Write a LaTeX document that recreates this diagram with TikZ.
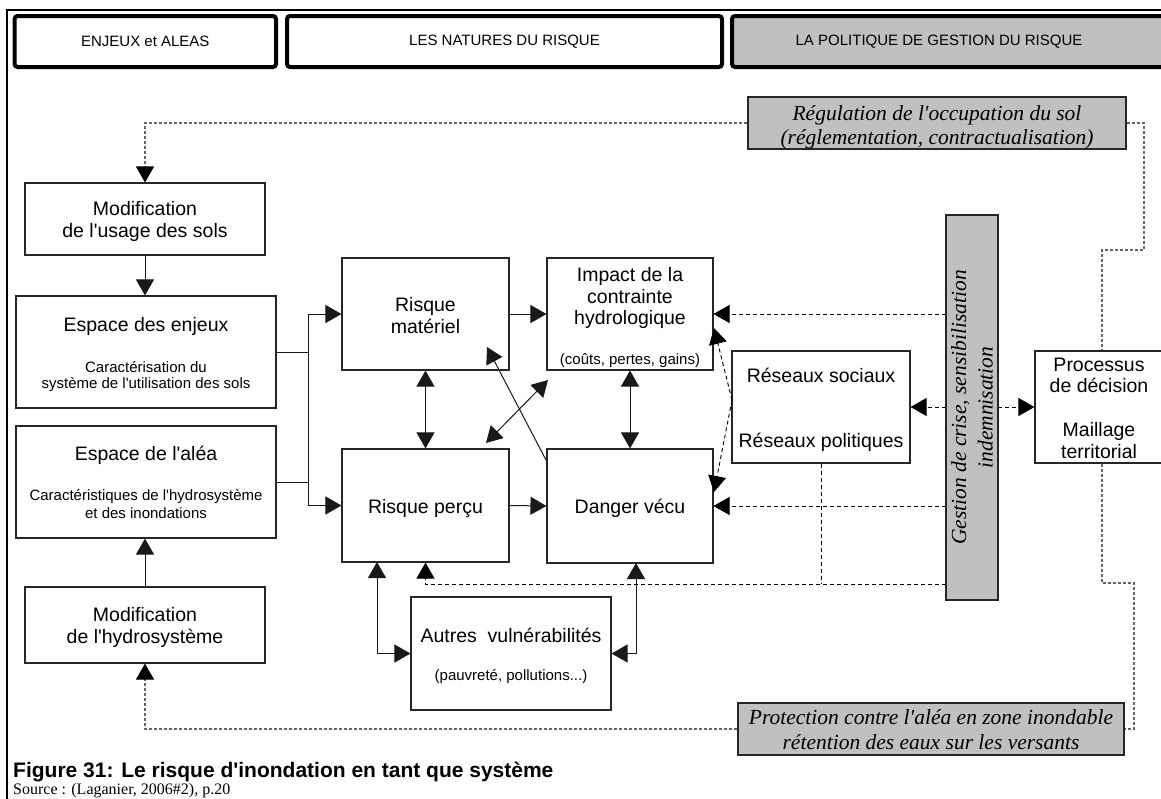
\documentclass[tikz,border=0pt]{standalone}
\usepackage{fontspec}
\setmainfont{Liberation Sans}[Ligatures=TeXOff]
\newfontfamily\tms{Liberation Serif}[Ligatures=TeXOff]
\usetikzlibrary{arrows.meta,calc}
\definecolor{boxgray}{RGB}{192,192,192}
\newcommand\FMain{\fontsize{19.5pt}{22pt}\selectfont}
\newcommand\FSmall{\fontsize{15pt}{17pt}\selectfont}
\newcommand\FIt{\tms\itshape\fontsize{21.5pt}{26.5pt}\selectfont}
\newcommand\FCap{\bfseries\fontsize{21pt}{24pt}\selectfont}
\newcommand\FSrc{\tms\fontsize{16pt}{18pt}\selectfont}
\begin{document}
\begin{tikzpicture}[x=1pt,y=-1pt,
  bx/.style={draw=black!85, line width=1.1pt, fill=white, inner sep=0pt},
  gbx/.style={draw=black!85, line width=1.1pt, fill=boxgray, inner sep=0pt},
  hdr/.style={draw=black, line width=4pt, rounded corners=3pt, inner sep=0pt, font=\FSmall},
  tx/.style={anchor=base, inner sep=0pt},
  ln/.style={draw=black!90, line width=1pt},
  arr/.style={ln, -{Triangle[length=16pt,width=18pt]}},
  darr2/.style={ln, {Triangle[length=16pt,width=18pt]}-{Triangle[length=16pt,width=18pt]}},
  dl/.style={draw=black, line width=0.9pt, dash pattern=on 4pt off 3pt},
  darr/.style={dl, -{Triangle[length=16pt,width=18pt]}},
  gd/.style={draw=black!60, line width=1.1pt, dash pattern=on 3pt off 2pt},
  gda/.style={gd, -{Triangle[length=16pt,width=18pt,color=black]}}
]
\useasboundingbox (0,0) rectangle (1161,798);
\clip (0,0) rectangle (1161,798);
\fill[white] (0,0) rectangle (1161,798);
% frame
\draw[line width=1.2pt] (7,800) -- (7,10) -- (1170,10);
% headers
\node[hdr, minimum width=261.4pt, minimum height=51pt] (h1) at (145.3,41.5) {ENJEUX et ALEAS};
\node[hdr, minimum width=435pt, minimum height=51pt] (h2) at (504.5,41.5) {LES NATURES DU RISQUE};
\node[hdr, fill=boxgray, minimum width=448pt, minimum height=51pt] (h3) at (956,41.5) {};
\node[font=\FSmall, inner sep=0pt] (h3t) at (939,41.5) {LA POLITIQUE DE GESTION DU RISQUE};
% boxes
\node[bx, minimum width=240pt, minimum height=72pt] (modU) at (145,219) {};
\node[bx, minimum width=260pt, minimum height=112pt] (enjeux) at (146,352) {};
\node[bx, minimum width=260pt, minimum height=112pt] (alea) at (146,482) {};
\node[bx, minimum width=240pt, minimum height=76pt] (modH) at (145,625) {};
\node[bx, minimum width=167pt, minimum height=112pt] (rmat) at (425.5,314) {};
\node[bx, minimum width=166pt, minimum height=112pt] (impact) at (630,314) {};
\node[bx, minimum width=167pt, minimum height=113pt] (rper) at (425.5,505.5) {};
\node[bx, minimum width=166pt, minimum height=114pt] (danger) at (630,506) {};
\node[bx, minimum width=178pt, minimum height=112pt] (reseaux) at (821,407) {};
\node[bx, minimum width=129pt, minimum height=112pt] (proc) at (1099.5,407) {};
\node[bx, minimum width=200pt, minimum height=113pt] (autres) at (511,653.5) {};
\node[gbx, minimum width=378pt, minimum height=52pt] (reg) at (937,123) {};
\node[gbx, minimum width=386pt, minimum height=52pt] (prot) at (931,729) {};
\node[gbx, rotate=90, minimum width=385pt, minimum height=52pt, align=center, font=\FIt] (bar) at (972,407.5) {Gestion de crise, sensibilisation\\indemnisation};
% texts
\node[tx, font=\FMain] (t1) at (145,215) {Modification};
\node[tx, font=\FMain] (t2) at (145,237) {de l'usage des sols};
\node[tx, font=\FMain] (t3) at (146,331) {Espace des enjeux};
\node[tx, font=\FSmall] (t4) at (146,372) {Caractérisation du};
\node[tx, font=\FSmall] (t5) at (146,388) {système de l'utilisation des sols};
\node[tx, font=\FMain] (t6) at (146,460) {Espace de l'aléa};
\node[tx, font=\FSmall] (t7) at (146,500) {Caractéristiques de l'hydrosystème};
\node[tx, font=\FSmall] (t8) at (146,518) {et des inondations};
\node[tx, font=\FMain] (t9) at (145,621) {Modification};
\node[tx, font=\FMain] (t10) at (145,643) {de l'hydrosystème};
\node[tx, font=\FMain] (t11) at (425.5,311) {Risque};
\node[tx, font=\FMain] (t12) at (425.5,333) {matériel};
\node[tx, font=\FMain] (t13) at (630,281) {Impact de la};
\node[tx, font=\FMain] (t14) at (630,303) {contrainte};
\node[tx, font=\FMain] (t15) at (630,324) {hydrologique};
\node[tx, font=\FSmall] (t16) at (630,364) {(coûts, pertes, gains)};
\node[tx, font=\FMain] (t17) at (425.5,513) {Risque perçu};
\node[tx, font=\FMain] (t18) at (630,513) {Danger vécu};
\node[tx, font=\FMain] (t19) at (821,382) {Réseaux sociaux};
\node[tx, font=\FMain] (t20) at (821,447) {Réseaux politiques};
\node[tx, font=\FMain] (t21) at (1099,371) {Processus};
\node[tx, font=\FMain] (t22) at (1099,392) {de décision};
\node[tx, font=\FMain] (t23) at (1099,436) {Maillage};
\node[tx, font=\FMain] (t24) at (1099,458) {territorial};
\node[tx, font=\FMain] (t25) at (511,642) {Autres~ vulnérabilités};
\node[tx, font=\FSmall] (t26) at (511,680) {(pauvreté, pollutions...)};
\node[tx, font=\FIt] (t27) at (937,120) {Régulation de l'occupation du sol};
\node[tx, font=\FIt] (t28) at (937,144) {(réglementation, contractualisation)};
\node[tx, font=\FIt] (t29) at (931,724) {Protection contre l'aléa en zone inondable};
\node[tx, font=\FIt] (t30) at (931,749) {rétention des eaux sur les versants};
\node[anchor=base west, inner sep=0pt, font=\FCap] (cap) at (13,777) {Figure 31: Le risque d'inondation en tant que système};
\node[anchor=base west, inner sep=0pt, font=\FSrc] (src) at (13,794) {Source : (Laganier, 2006\#2), p.20};
% coordinates
\coordinate (jx) at (308,0);
\coordinate (barL) at (946,0);
\coordinate (barR) at (998,0);
\coordinate (d1) at (548,380);
\coordinate (d2) at (486,443);
\coordinate (s1) at (546,460);
\coordinate (s2) at (487,347);
\coordinate (rsw) at (732,400);
\coordinate (iTip) at (714,328);
\coordinate (dTip) at (714,492);
\coordinate (b584) at (946,584);
\coordinate (pl) at (377,562);
\coordinate (dl1) at (636,563);
\coordinate (r1) at (1144,250);
\coordinate (px) at (1102,0);
\coordinate (c2) at (1134,583);
% solid connectors
\draw[arr] (modU.south) -- (modU.south |- enjeux.north);
\draw[arr] (modH.north) -- (modH.north |- alea.south);
\draw[arr] (enjeux.east) -- (jx |- enjeux.east) |- (rmat.west);
\draw[arr] (alea.east) -- (jx |- alea.east) |- (rper.west);
\draw[ln] (jx |- enjeux.east) -- (jx |- alea.east);
\draw[arr] (rmat.east) -- (impact.west);
\draw[arr] (rper.east) -- (danger.west);
\draw[darr2] (rmat.south) -- (rper.north);
\draw[darr2] (impact.south) -- (danger.north);
\draw[darr2] (d1) -- (d2);
\draw[arr] (s1) -- (s2);
\draw[darr2] (pl) |- (autres.west);
\draw[darr2] (dl1) |- (autres.east);
% dashed from crisis bar
\draw[darr] (barL |- impact.east) -- (impact.east);
\draw[darr] (barL |- danger.east) -- (danger.east);
\draw[darr] (barL |- reseaux.east) -- (reseaux.east);
\draw[darr] (barR |- proc.west) -- (proc.west);
\draw[darr] (rsw) -- (iTip);
\draw[darr] (rsw) -- (dTip);
\draw[darr] (b584) -| (rper.south);
\draw[dl] (reseaux.south) -- (reseaux.south |- b584);
% grey policy loops
\draw[gda] (reg.west) -| (modU.north);
\draw[gd] (reg.east) -| (r1) -| (px |- proc.north);
\draw[gd] (px |- proc.south) |- (c2) |- (prot.east);
\draw[gda] (prot.west) -| (modH.south);
\end{tikzpicture}
\end{document}
